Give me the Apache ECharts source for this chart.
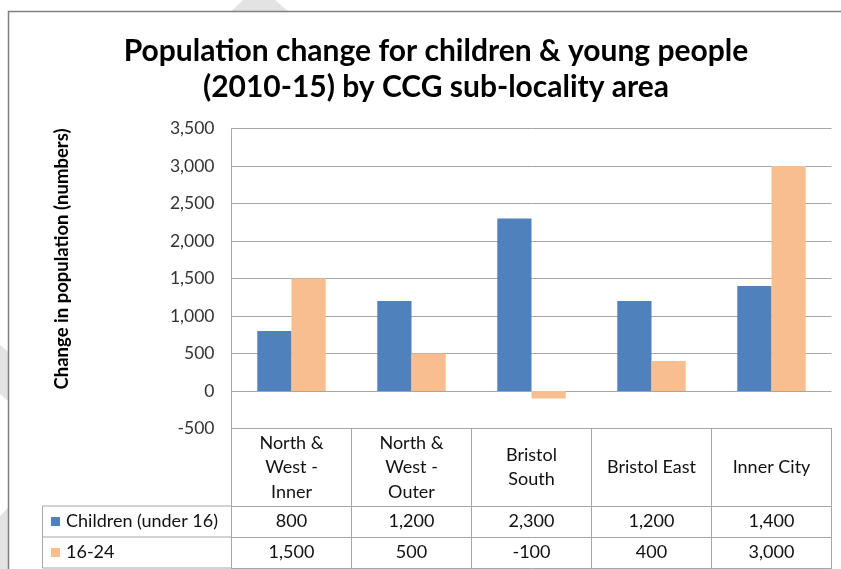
<!DOCTYPE html>
<html>
<head>
<meta charset="utf-8">
<script src="https://cdn.jsdelivr.net/npm/echarts@6/dist/echarts.min.js"></script>
<style>
html,body{margin:0;padding:0;background:#fff;}
#chart{width:841px;height:569px;}
</style>
</head>
<body>
<div id="chart"></div>
<script>
// ---- data ----
const categories = ['North &\nWest -\nInner', 'North &\nWest -\nOuter', 'Bristol\nSouth', 'Bristol East', 'Inner City'];
const seriesNames = ['Children (under 16)', '16-24'];
const children = [800, 1200, 2300, 1200, 1400];
const youth = [1500, 500, -100, 400, 3000];
const yTicks = { min: -500, max: 3500, interval: 500 };
const titleText = 'Population change for children & young people\n(2010-15) by CCG sub-locality area';
const yAxisTitle = 'Change in population (numbers)';

// ---- styling / layout ----
const FONT = 'Lato';
const colors = ['#4f81bd', '#f9be8f'];
const lineColor = '#a6a6a6';
const G = { left: 231.5, right: 9.5, top: 128.5, height: 300 };
const gridBottom = G.top + G.height;          // 428.5
const row0 = 77.5, row1 = 31, row2 = 31;      // table row heights
const tableLeft = 42.5;
const TABLE_FS = 18;
const fmt = v => Number(v).toLocaleString('en-US');

const chart = echarts.init(document.getElementById('chart'), null, { renderer: 'canvas' });

function tableAxis(data, offset, height, showLabel) {
  return {
    type: 'category', data: data, gridIndex: 0, position: 'bottom', offset: offset,
    axisLine: { show: true, onZero: false, lineStyle: { color: lineColor, width: 1 } },
    axisTick: { show: height > 0, length: height, interval: 0, lineStyle: { color: lineColor } },
    axisLabel: { show: showLabel, interval: 0, margin: height / 2, verticalAlign: 'middle',
      fontFamily: FONT, fontSize: TABLE_FS, color: '#111', lineHeight: 24.5 },
    splitLine: { show: false }
  };
}

const rowY1 = gridBottom + row0, rowY2 = rowY1 + row1, rowY3 = rowY2 + row2;

const graphics = [
  // watermark fragments outside frame
  { type: 'polygon', shape: { points: [[243, 0], [275, 0], [288, 11.5], [231, 11.5]] }, style: { fill: '#e3e3e3' }, z: 0 },
  { type: 'polygon', shape: { points: [[0, 345], [8.5, 352], [8.5, 401], [0, 394]] }, style: { fill: '#e3e3e3' }, z: 0 },
  { type: 'polygon', shape: { points: [[0, 516], [8.5, 507], [8.5, 569], [0, 569]] }, style: { fill: '#e3e3e3' }, z: 0 },
  // chart frame
  { type: 'rect', shape: { x: 8.5, y: 11.5, width: 900, height: 700 }, style: { fill: '#fff', stroke: '#808080', lineWidth: 1.5 }, z: 0 },
  // y-axis title
  { type: 'text', x: 62, y: 259, rotation: Math.PI / 2,
    style: { text: yAxisTitle, font: 'bold 18.5px ' + FONT, fill: '#000', align: 'center', verticalAlign: 'middle' }, z: 10 },
  // left legend column of the data table
  { type: 'line', shape: { x1: tableLeft, y1: rowY1, x2: G.left, y2: rowY1 }, style: { stroke: lineColor, lineWidth: 1 }, z: 10 },
  { type: 'line', shape: { x1: tableLeft, y1: rowY2, x2: G.left, y2: rowY2 }, style: { stroke: lineColor, lineWidth: 1 }, z: 10 },
  { type: 'line', shape: { x1: tableLeft, y1: rowY3, x2: G.left, y2: rowY3 }, style: { stroke: lineColor, lineWidth: 1 }, z: 10 },
  { type: 'line', shape: { x1: tableLeft, y1: rowY1, x2: tableLeft, y2: rowY3 }, style: { stroke: lineColor, lineWidth: 1 }, z: 10 },
  { type: 'rect', shape: { x: 51, y: rowY1 + row1 / 2 - 4.5, width: 9, height: 9 }, style: { fill: colors[0] }, z: 10 },
  { type: 'rect', shape: { x: 51, y: rowY2 + row2 / 2 - 4.5, width: 9, height: 9 }, style: { fill: colors[1] }, z: 10 },
  { type: 'text', x: 66, y: rowY1 + row1 / 2, style: { text: seriesNames[0], font: TABLE_FS + 'px ' + FONT, fill: '#111', verticalAlign: 'middle' }, z: 10 },
  { type: 'text', x: 66, y: rowY2 + row2 / 2, style: { text: seriesNames[1], font: TABLE_FS + 'px ' + FONT, fill: '#111', verticalAlign: 'middle' }, z: 10 }
];

chart.setOption({
  animation: false,
  backgroundColor: '#fff',
  title: {
    text: titleText, left: 431, top: 28, textAlign: 'center',
    textStyle: { fontFamily: FONT, fontWeight: 'bold', fontSize: 30, lineHeight: 36, color: '#000' }
  },
  grid: { left: G.left, right: G.right, top: G.top, height: G.height, containLabel: false },
  xAxis: [
    tableAxis(categories, 0, row0, true),
    tableAxis(children.map(fmt), row0, row1, true),
    tableAxis(youth.map(fmt), row0 + row1, row2, true),
    tableAxis(categories.map(() => ''), row0 + row1 + row2, 0, false)
  ],
  yAxis: {
    type: 'value', min: yTicks.min, max: yTicks.max, interval: yTicks.interval,
    axisLine: { show: true, lineStyle: { color: lineColor } },
    axisTick: { show: false },
    axisLabel: { formatter: fmt, margin: 17, fontFamily: FONT, fontSize: 17.5, color: '#333' },
    splitLine: { show: true, lineStyle: { color: lineColor, width: 1 } }
  },
  series: [
    { name: seriesNames[0], type: 'bar', data: children, xAxisIndex: 0, itemStyle: { color: colors[0] },
      barGap: '0%', barCategoryGap: '43%' },
    { name: seriesNames[1], type: 'bar', data: youth, xAxisIndex: 0, itemStyle: { color: colors[1] },
      barGap: '0%', barCategoryGap: '43%' }
  ],
  graphic: graphics
});
</script>
</body>
</html>
